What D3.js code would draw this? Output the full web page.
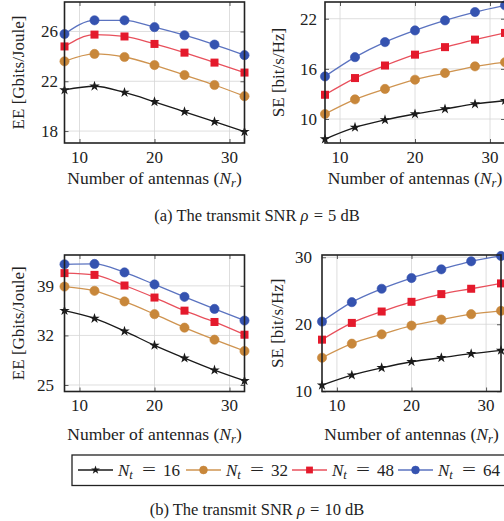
<!DOCTYPE html>
<html>
<head>
<meta charset="utf-8">
<script src="https://cdn.jsdelivr.net/npm/d3@7"></script>
<style>
  html, body { margin: 0; padding: 0; background: #fff; }
  svg { display: block; }
  svg text { font-family: "Liberation Serif", "Times New Roman", "DejaVu Serif", serif; }
</style>
</head>
<body>
<svg id="fig" width="504" height="521"></svg>
<script>
// Number of receive antennas (x values shared by every panel)
const antennas = [8, 12, 16, 20, 24, 28, 32];
// Transmit antennas per series
const ntValues = [16, 32, 48, 64];

// Energy efficiency, SNR = 5 dB  (rows follow ntValues)
const ee5 = [
  [21.3, 21.6, 21.1, 20.35, 19.55, 18.75, 17.95],
  [23.6, 24.2, 23.95, 23.3, 22.5, 21.7, 20.8],
  [24.8, 25.75, 25.6, 25.0, 24.3, 23.5, 22.7],
  [25.8, 26.9, 26.9, 26.35, 25.7, 24.95, 24.1]
];
// Spectral efficiency, SNR = 5 dB
const se5 = [
  [7.6, 9.0, 9.9, 10.6, 11.2, 11.8, 12.2],
  [10.6, 12.35, 13.6, 14.7, 15.5, 16.3, 16.8],
  [12.9, 14.9, 16.4, 17.7, 18.6, 19.5, 20.3],
  [15.1, 17.4, 19.2, 20.6, 21.8, 22.8, 23.6]
];
// Energy efficiency, SNR = 10 dB
const ee10 = [
  [35.5, 34.4, 32.6, 30.6, 28.8, 27.1, 25.6],
  [38.9, 38.3, 36.8, 35.0, 33.1, 31.4, 29.8],
  [40.8, 40.55, 39.05, 37.35, 35.5, 33.9, 32.1],
  [42.05, 42.1, 40.9, 39.2, 37.45, 35.75, 34.1]
];
// Spectral efficiency, SNR = 10 dB
const se10 = [
  [10.9, 12.4, 13.5, 14.4, 15.0, 15.6, 16.1],
  [15.0, 17.1, 18.5, 19.8, 20.7, 21.5, 22.0],
  [17.7, 20.2, 21.9, 23.35, 24.5, 25.3, 26.1],
  [20.4, 23.3, 25.3, 26.9, 28.2, 29.4, 30.2]
];

// Tick labels
const xTicks = [10, 20, 30];
const yTicksEE5 = [18, 22, 26];
const yTicksSE5 = [10, 16, 22];
const yTicksEE10 = [25, 32, 39];
const yTicksSE10 = [10, 20, 30];

const captions = ["(a) The transmit SNR ", "(b) The transmit SNR "];
const captionTails = ["5 dB", "10 dB"];

// Series styling (pgfplots-like palette)
const styles = [
  { color: "#1a1a1a", line: "#1a1a1a", marker: "star" },
  { color: "#c8873a", line: "#cf9450", marker: "circle" },
  { color: "#e41a2c", line: "#e8505c", marker: "square" },
  { color: "#3553b0", line: "#5b73c0", marker: "circle" }
];

const FONT = "Liberation Serif, Times New Roman, DejaVu Serif, serif";
const svg = d3.select("#fig");
const defs = svg.append("defs");

function drawMarker(g, type, x, y, s, small) {
  const k = small ? 0.85 : 1;
  if (type === "circle") {
    g.append("circle").attr("cx", x).attr("cy", y).attr("r", 4.6 * k)
      .attr("fill", s.color).attr("stroke", s.color).attr("stroke-width", 0.6);
  } else if (type === "square") {
    g.append("rect").attr("x", x - 4 * k).attr("y", y - 4 * k)
      .attr("width", 8 * k).attr("height", 8 * k).attr("fill", s.color);
  } else {
    g.append("path").attr("d", d3.symbol(d3.symbolStar, small ? 24 : 34)())
      .attr("transform", `translate(${x},${y})`).attr("fill", s.color);
  }
}

function txt(g) {
  return g.append("text").attr("font-family", FONT).attr("fill", "#222");
}

const panels = [
  { data: ee5, yTicks: yTicksEE5, xr: [64.5, 244.5], yr: [143, 2], yd: [17.04, 28.37],
    ylabel: "EE [Gbits/Joule]", ylx: 18, tickRight: 58, xTickY: 163, xLabelY: 184 },
  { data: se5, yTicks: yTicksSE5, xr: [325, 505], yr: [143, 2], yd: [7.13, 24.0],
    ylabel: "SE [bit/s/Hz]", ylx: 278, tickRight: 317, xTickY: 163, xLabelY: 184 },
  { data: ee10, yTicks: yTicksEE10, xr: [64.5, 244.5], yr: [391.5, 255], yd: [24.08, 43.36],
    ylabel: "EE [Gbits/Joule]", ylx: 18, tickRight: 54, xTickY: 411, xLabelY: 440 },
  { data: se10, yTicks: yTicksSE10, xr: [322, 501], yr: [391.5, 255], yd: [9.96, 30.34],
    ylabel: "SE [bit/s/Hz]", ylx: 277, tickRight: 312, xTickY: 411, xLabelY: 440 }
];

panels.forEach((p, i) => {
  const x = d3.scaleLinear().domain([8, 32]).range(p.xr);
  const y = d3.scaleLinear().domain(p.yd).range(p.yr);
  const g = svg.append("g");
  const clipId = "clip" + i;
  defs.append("clipPath").attr("id", clipId).append("rect")
    .attr("x", p.xr[0] - 6).attr("y", p.yr[1] - 6)
    .attr("width", p.xr[1] - p.xr[0] + 12).attr("height", p.yr[0] - p.yr[1] + 12);

  // grid
  const grid = g.append("g").attr("stroke", "#d6d6d6").attr("stroke-width", 0.8);
  xTicks.forEach(t => grid.append("line").attr("x1", x(t)).attr("x2", x(t))
    .attr("y1", p.yr[1]).attr("y2", p.yr[0]));
  p.yTicks.forEach(t => grid.append("line").attr("y1", y(t)).attr("y2", y(t))
    .attr("x1", p.xr[0]).attr("x2", p.xr[1]));

  // inner tick marks on all four sides
  const axB = d3.axisBottom(x).tickValues(xTicks).tickSizeInner(-4).tickSizeOuter(0).tickFormat("");
  const axT = d3.axisTop(x).tickValues(xTicks).tickSizeInner(-4).tickSizeOuter(0).tickFormat("");
  const axL = d3.axisLeft(y).tickValues(p.yTicks).tickSizeInner(-4).tickSizeOuter(0).tickFormat("");
  const axR = d3.axisRight(y).tickValues(p.yTicks).tickSizeInner(-4).tickSizeOuter(0).tickFormat("");
  [[axB, `translate(0,${p.yr[0]})`], [axT, `translate(0,${p.yr[1]})`],
   [axL, `translate(${p.xr[0]},0)`], [axR, `translate(${p.xr[1]},0)`]].forEach(([ax, tr]) => {
    const a = g.append("g").attr("transform", tr).call(ax);
    a.select(".domain").remove();
    a.selectAll("line").attr("stroke", "#333").attr("stroke-width", 0.8);
  });

  // series
  const plot = g.append("g").attr("clip-path", `url(#${clipId})`);
  const line = d3.line().x((d, j) => x(antennas[j])).y(d => y(d)).curve(d3.curveMonotoneX);
  p.data.forEach((vals, k) => {
    const s = styles[k];
    plot.append("path").attr("d", line(vals)).attr("fill", "none")
      .attr("stroke", s.line).attr("stroke-width", 1.3);
  });
  p.data.forEach((vals, k) => {
    const s = styles[k];
    vals.forEach((v, j) => drawMarker(plot, s.marker, x(antennas[j]), y(v), s));
  });

  // frame
  g.append("rect").attr("x", p.xr[0]).attr("y", p.yr[1])
    .attr("width", p.xr[1] - p.xr[0]).attr("height", p.yr[0] - p.yr[1])
    .attr("fill", "none").attr("stroke", "#222").attr("stroke-width", 1.6);

  // tick labels
  xTicks.forEach(t => txt(g).attr("x", x(t)).attr("y", p.xTickY)
    .attr("text-anchor", "middle").attr("font-size", 17).text(t));
  p.yTicks.forEach(t => txt(g).attr("x", p.tickRight).attr("y", y(t))
    .attr("dy", "0.35em").attr("text-anchor", "end").attr("font-size", 17).text(t));

  // x label
  const xl = txt(g).attr("x", (p.xr[0] + p.xr[1]) / 2).attr("y", p.xLabelY)
    .attr("text-anchor", "middle").attr("font-size", 17.5);
  xl.append("tspan").text("Number of antennas (");
  xl.append("tspan").attr("font-style", "italic").text("N");
  xl.append("tspan").attr("font-style", "italic").attr("font-size", 12.5).attr("dy", 3).text("r");
  xl.append("tspan").attr("dy", -3).text(")");

  // y label
  const cy = (p.yr[0] + p.yr[1]) / 2;
  txt(g).attr("transform", `translate(${p.ylx},${cy}) rotate(-90)`)
    .attr("dy", "0.35em").attr("text-anchor", "middle").attr("font-size", 17)
    .text(p.ylabel);
});

// captions
[221, 515].forEach((yy, i) => {
  const t = txt(svg).attr("x", 257).attr("y", yy).attr("text-anchor", "middle")
    .attr("font-size", 16.5);
  t.append("tspan").text(captions[i]);
  t.append("tspan").attr("font-style", "italic").text("ρ");
  t.append("tspan").text(" = ").attr("dx", 1);
  t.append("tspan").text(captionTails[i]).attr("dx", 1);
});

// legend
const leg = svg.append("g");
leg.append("rect").attr("x", 72).attr("y", 455).attr("width", 450).attr("height", 30.5)
  .attr("fill", "#fff").attr("stroke", "#222").attr("stroke-width", 1.3);
const legLineX = [78, 186, 292, 398];
ntValues.forEach((nt, k) => {
  const s = styles[k];
  const lx = legLineX[k];
  const ly = 470;
  leg.append("line").attr("x1", lx).attr("x2", lx + 35).attr("y1", ly).attr("y2", ly)
    .attr("stroke", s.line).attr("stroke-width", 1.3);
  drawMarker(leg, s.marker, lx + 17.5, ly, s, true);
  const t = txt(leg).attr("x", lx + 40).attr("y", ly + 5.5).attr("font-size", 17);
  t.append("tspan").attr("font-style", "italic").text("N");
  t.append("tspan").attr("font-style", "italic").attr("font-size", 12.5).attr("dy", 3).text("t");
  // math-spaced relation sign
  txt(leg).attr("x", lx + 64).attr("y", ly + 5).attr("font-size", 17)
    .attr("textLength", 14).attr("lengthAdjust", "spacingAndGlyphs").text("=");
  txt(leg).attr("x", lx + 85).attr("y", ly + 5.5).attr("font-size", 17).text(nt);
});
</script>
</body>
</html>
